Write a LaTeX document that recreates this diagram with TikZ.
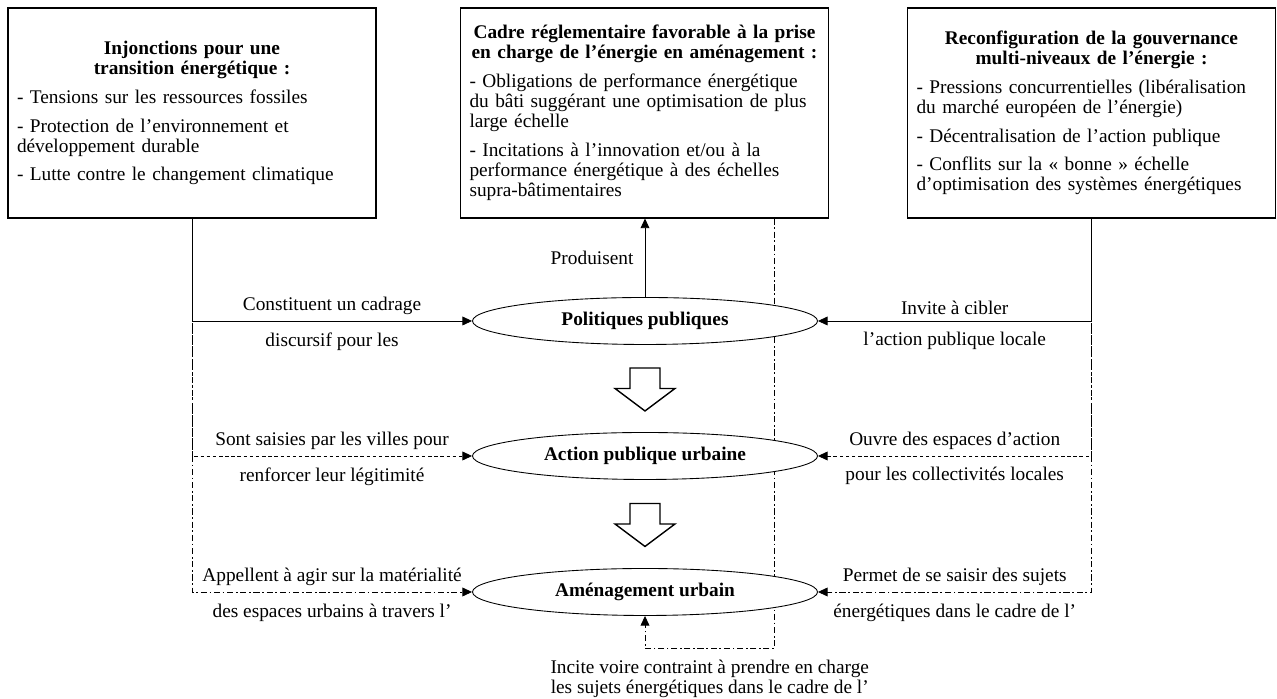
\documentclass[tikz,border=0pt]{standalone}
\usepackage{fontspec}
\setmainfont{Liberation Serif}
\usetikzlibrary{arrows.meta,positioning,calc,shapes.geometric,backgrounds}

\begin{document}
\begin{tikzpicture}[
  box/.style={draw, line width=0.6pt, minimum width=7.36cm, minimum height=4.2cm, text width=7cm, inner xsep=0.18cm, align=left, font=\fontsize{11}{11.4}\selectfont},
  ell/.style={draw, line width=0.5pt, ellipse, fill=white, minimum width=6.9cm, minimum height=0.94cm, font=\bfseries\fontsize{11}{11.2}\selectfont},
  lbl/.style={font=\fontsize{11}{11.2}\selectfont, align=center},
  arr/.style={-{Triangle[length=5.5pt,width=5pt]}, line width=0.5pt},
  dsh/.style={arr, dash pattern=on 2pt off 1.5pt},
  dshdot/.style={arr, dash pattern=on 3.5pt off 1.5pt on 1pt off 1.5pt},
  blockarr/.style={draw, line width=0.8pt, fill=white},
]
\useasboundingbox (0,0) rectangle (25.54,13.98);

% Contexte
\node[box] (inj) at (3.84,11.72) {{\centering\bfseries Injonctions pour une\\ transition énergétique :\par}\vspace{5pt}
- Tensions sur les ressources fossiles\\[5pt]
- Protection de l’environnement et\\ développement durable\\[5pt]
- Lutte contre le changement climatique};
\node[box] (cadre) at (12.89,11.72) {{\centering\bfseries Cadre réglementaire favorable à la prise\\ en charge de l’énergie en aménagement :\par}\vspace{5pt}
- Obligations de performance énergétique\\ du bâti suggérant une optimisation de plus\\ large échelle\\[5pt]
- Incitations à l’innovation et/ou à la\\ performance énergétique à des échelles\\ supra-bâtimentaires};
\node[box] (gouv) at (21.83,11.72) {{\centering\bfseries Reconfiguration de la gouvernance\\ multi-niveaux de l’énergie :\par}\vspace{5pt}
- Pressions concurrentielles (libéralisation\\ du marché européen de l’énergie)\\[5pt]
- Décentralisation de l’action publique\\[5pt]
- Conflits sur la « bonne » échelle\\ d’optimisation des systèmes énergétiques};

% Niveaux
\node[ell] (pol) at (12.9,7.56) {Politiques publiques};
\node[ell] (act) at (12.9,4.86) {Action publique urbaine};
\node[ell] (amen) at (12.9,2.14) {Aménagement urbain};

\foreach \a/\b in {pol/act, act/amen}
  \draw[blockarr] ($(\a.south)!0.5!(\b.north)$) ++(-0.3,0.41) -- ++(0,-0.41) -- ++(-0.3,0) -- ++(0.6,-0.45) -- ++(0.6,0.45) -- ++(-0.3,0) -- ++(0,0.41) -- cycle;

% Gauche
\draw[dshdot] (inj.south) |- (amen.west)
  node[lbl, pos=0.75, above] {Appellent à agir sur la matérialité}
  node[lbl, pos=0.75, below=3pt] {des espaces urbains à travers l’};
\draw[dsh] (inj.south) |- (act.west)
  node[lbl, pos=0.75, above] {Sont saisies par les villes pour}
  node[lbl, pos=0.75, below=3pt] {renforcer leur légitimité};
\draw[arr] (inj.south) |- (pol.west)
  node[lbl, pos=0.75, above] {Constituent un cadrage}
  node[lbl, pos=0.75, below=3pt] {discursif pour les};

% Droite
\draw[dshdot] (gouv.south) |- (amen.east)
  node[lbl, pos=0.75, above] {Permet de se saisir des sujets}
  node[lbl, pos=0.75, below=3pt] {énergétiques dans le cadre de l’};
\draw[dsh] (gouv.south) |- (act.east)
  node[lbl, pos=0.75, above] {Ouvre des espaces d’action}
  node[lbl, pos=0.75, below=3pt] {pour les collectivités locales};
\draw[arr] (gouv.south) |- (pol.east)
  node[lbl, pos=0.75, above] {Invite à cibler}
  node[lbl, pos=0.75, below=3pt] {l’action publique locale};

% Centre
\draw[arr] (pol.north) -- (cadre.south -| pol.north)
  node[lbl, midway, left=3pt] {Produisent};

\coordinate (cadR) at ($(cadre.south)+(2.6,0)$);
\coordinate (incB) at ($(amen.south)+(0,-0.65)$);
\begin{scope}[on background layer]
\draw[dshdot] (cadR) |- (incB)
  node[lbl, pos=0.75, below=3pt] {Incite voire contraint à prendre en charge\\ les sujets énergétiques dans le cadre de l’}
  -- (amen.south);
\end{scope}

\end{tikzpicture}
\end{document}
